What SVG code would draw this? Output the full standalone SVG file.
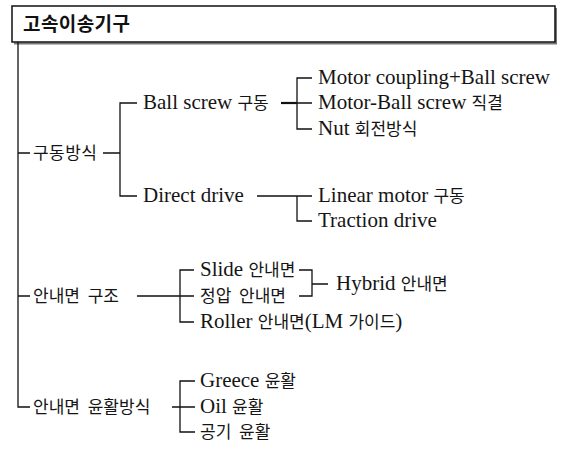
<svg xmlns="http://www.w3.org/2000/svg" width="565" height="455" viewBox="0 0 565 455">
<style>
.t{font-family:"Liberation Serif","Noto Sans CJK KR",serif;font-size:21px;fill:#151515}
.k{font-family:"Noto Sans CJK KR","Liberation Sans",sans-serif;font-size:17px}
.ks{word-spacing:4px}
.title{font-family:"Noto Sans CJK KR","Liberation Sans",sans-serif;font-size:19px;font-weight:bold;fill:#111}
.c{fill:none;stroke:#111;stroke-width:1.3}
.thick{stroke-width:2.2}
</style>
<rect width="565" height="455" fill="#fff"/>
<g id="header">
<polyline points="556,8 556,43.5 14,43.5" fill="none" stroke="#777" stroke-width="2"/>
<rect x="12" y="6" width="543" height="36" fill="#fff" stroke="#111" stroke-width="1.5"/>
<text class="title" x="23" y="31" textLength="107" lengthAdjust="spacing">고속이송기구</text>
</g>
<g id="connectors">
<path class="c" d="M18 42V407H30M18 153H30M18 296H30"/>
<path class="c" d="M103 153H120M137 103H120V196H137"/>
<path class="c thick" d="M281 103H297"/>
<path class="c" d="M312 78H297V129H312M297 103H312"/>
<path class="c" d="M257 196H297V221H312M297 196H312"/>
<path class="c" d="M137 296H180M194 270H180V322H194M180 296H194"/>
<path class="c" d="M299 270H312V296H299M312 284H328"/>
<path class="c" d="M172 407H195M195 381H180V432H195"/>
</g>
<g id="n-drive"><text class="t" x="33" y="159" textLength="64" lengthAdjust="spacing"><tspan class="k">구동방식</tspan></text></g>
<g id="n-ballscrew"><text class="t" x="143" y="109">Ball screw <tspan class="k">구동</tspan></text></g>
<g id="n-direct"><text class="t" x="143" y="202">Direct drive</text></g>
<g id="n-coupling"><text class="t" x="318" y="84" textLength="232" lengthAdjust="spacing">Motor coupling+Ball screw</text></g>
<g id="n-directcoupled"><text class="t" x="318" y="109">Motor-Ball screw <tspan class="k">직결</tspan></text></g>
<g id="n-nut"><text class="t" x="318" y="135">Nut <tspan class="k">회전방식</tspan></text></g>
<g id="n-linear"><text class="t" x="318" y="202">Linear motor <tspan class="k">구동</tspan></text></g>
<g id="n-traction"><text class="t" x="318" y="227">Traction drive</text></g>
<g id="n-guide"><text class="t ks" x="33" y="302"><tspan class="k">안내면 구조</tspan></text></g>
<g id="n-slide"><text class="t" x="200" y="276">Slide <tspan class="k">안내면</tspan></text></g>
<g id="n-hydro"><text class="t ks" x="200" y="302"><tspan class="k">정압 안내면</tspan></text></g>
<g id="n-roller"><text class="t" x="200" y="328">Roller <tspan class="k">안내면</tspan>(LM <tspan class="k">가이드</tspan>)</text></g>
<g id="n-hybrid"><text class="t" x="336" y="290">Hybrid <tspan class="k">안내면</tspan></text></g>
<g id="n-lube"><text class="t ks" x="33" y="413"><tspan class="k">안내면 윤활방식</tspan></text></g>
<g id="n-grease"><text class="t" x="200" y="387">Greece <tspan class="k">윤활</tspan></text></g>
<g id="n-oil"><text class="t" x="200" y="413">Oil <tspan class="k">윤활</tspan></text></g>
<g id="n-air"><text class="t ks" x="200" y="438"><tspan class="k">공기 윤활</tspan></text></g>
</svg>
